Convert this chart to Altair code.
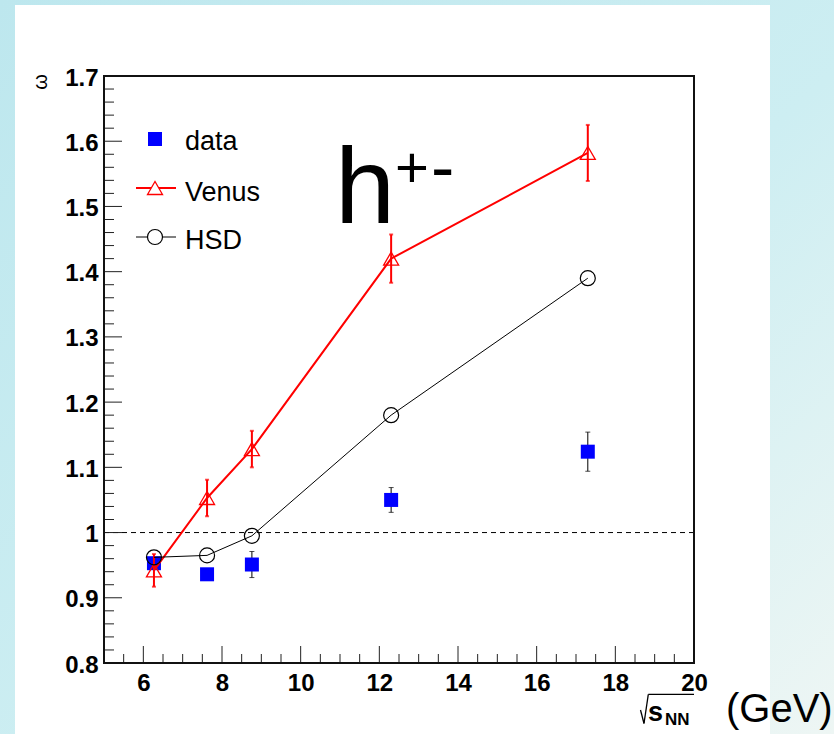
import altair as alt
import pandas as pd

# ---- data ----
sqrt_s = [6.27, 7.62, 8.76, 12.3, 17.3]
data_omega = [0.953, 0.936, 0.951, 1.050, 1.124]
data_err = [0.0, 0.0, 0.020, 0.019, 0.030]
venus_omega = [0.942, 1.053, 1.128, 1.420, 1.582]
venus_err = [0.025, 0.028, 0.028, 0.037, 0.043]
hsd_omega = [0.962, 0.965, 0.995, 1.180, 1.390]

x_major = [6, 8, 10, 12, 14, 16, 18, 20]
y_major = [0.8, 0.9, 1.0, 1.1, 1.2, 1.3, 1.4, 1.5, 1.6, 1.7]
x_minor = [v for v in [5 + 0.5 * i for i in range(1, 30)] if v not in x_major]
y_minor = [round(0.8 + 0.02 * i, 2) for i in range(1, 45) if i % 5 != 0]

FONT = "Liberation Sans"
W, H = 590, 587
RED = "#ff0000"
BLUE = "#0000ff"

xs = alt.Scale(domain=[5, 20], nice=False, zero=False)
ys = alt.Scale(domain=[0.8, 1.7], nice=False, zero=False)
xaxis = alt.Axis(values=x_major, ticks=False, domain=False, grid=False, title=None,
                 labelFont=FONT, labelFontSize=24, labelFontWeight="bold", labelColor="black",
                 labelPadding=8, labelFlush=False, labelOverlap=False, format="d", zindex=2)
yaxis = alt.Axis(values=y_major, ticks=False, domain=False, grid=False, title=None,
                 labelFont=FONT, labelFontSize=24, labelFontWeight="bold", labelColor="black",
                 labelPadding=6, labelFlush=False, labelOverlap=False, labelOffset=2, zindex=2,
                 labelExpr="datum.value == 1 ? '1' : format(datum.value, '.1f')")


def X(f):
    return alt.X(f, scale=xs, axis=xaxis)


def Y(f):
    return alt.Y(f, scale=ys, axis=yaxis)


one = pd.DataFrame({"k": [0]})

df_data = pd.DataFrame({"x": sqrt_s, "y": data_omega,
                        "lo": [a - b for a, b in zip(data_omega, data_err)],
                        "hi": [a + b for a, b in zip(data_omega, data_err)]})
df_venus = pd.DataFrame({"x": sqrt_s, "y": venus_omega,
                         "lo": [a - b for a, b in zip(venus_omega, venus_err)],
                         "hi": [a + b for a, b in zip(venus_omega, venus_err)]})
df_hsd = pd.DataFrame({"x": sqrt_s, "y": hsd_omega})
df_data_err = df_data[[e > 0 for e in data_err]]

# ---- background ----
grad = alt.LinearGradient(gradient="linear",
                          stops=[alt.GradientStop(color="#bde7ee", offset=0),
                                 alt.GradientStop(color="#cdeef2", offset=0.55),
                                 alt.GradientStop(color="#eef6f4", offset=1)],
                          x1=0, y1=0, x2=1, y2=1)
bg = alt.Chart(one).mark_rect(fill=grad).encode(
    x=alt.value(-104), x2=alt.value(730), y=alt.value(-76), y2=alt.value(658))
panel = alt.Chart(one).mark_rect(fill="white").encode(
    x=alt.value(-89), x2=alt.value(666), y=alt.value(-71), y2=alt.value(658))

# ---- reference line ----
ref = alt.Chart(pd.DataFrame({"y": [1.0]})).mark_rule(
    color="black", strokeWidth=1, strokeDash=[5, 4]).encode(
    y=Y("y:Q"), x=alt.value(0), x2=alt.value(W))

# ---- data ----
data_bar = alt.Chart(df_data_err).mark_rule(color="black", strokeWidth=1).encode(
    x=X("x:Q"), y=Y("lo:Q"), y2="hi:Q")
data_cap_lo = alt.Chart(df_data_err).mark_tick(color="black", orient="horizontal",
                                               size=5, thickness=1).encode(x=X("x:Q"), y=Y("lo:Q"))
data_cap_hi = alt.Chart(df_data_err).mark_tick(color="black", orient="horizontal",
                                               size=5, thickness=1).encode(x=X("x:Q"), y=Y("hi:Q"))
data_pts = alt.Chart(df_data).mark_point(shape="square", filled=True, size=196,
                                         color=BLUE, opacity=1).encode(x=X("x:Q"), y=Y("y:Q"))

# ---- Venus ----
venus_line = alt.Chart(df_venus).mark_line(color=RED, strokeWidth=2).encode(
    x=X("x:Q"), y=Y("y:Q"))
venus_bar = alt.Chart(df_venus).mark_rule(color=RED, strokeWidth=2).encode(
    x=X("x:Q"), y=Y("lo:Q"), y2="hi:Q")
venus_cap_lo = alt.Chart(df_venus).mark_tick(color=RED, orient="horizontal",
                                             size=4, thickness=2).encode(x=X("x:Q"), y=Y("lo:Q"))
venus_cap_hi = alt.Chart(df_venus).mark_tick(color=RED, orient="horizontal",
                                             size=4, thickness=2).encode(x=X("x:Q"), y=Y("hi:Q"))
venus_pts = alt.Chart(df_venus).mark_point(shape="triangle-up", filled=False, size=225,
                                           color=RED, strokeWidth=1.3, opacity=1).encode(
    x=X("x:Q"), y=Y("y:Q"))

# ---- HSD ----
hsd_line = alt.Chart(df_hsd).mark_line(color="black", strokeWidth=1).encode(
    x=X("x:Q"), y=Y("y:Q"))
hsd_pts = alt.Chart(df_hsd).mark_point(shape="circle", filled=False, size=225,
                                       color="black", strokeWidth=1.2, opacity=1).encode(
    x=X("x:Q"), y=Y("y:Q"))

# ---- ticks (inward, ROOT style) ----
ytick_major = alt.Chart(pd.DataFrame({"t": y_major})).mark_rule(color="#222", strokeWidth=1).encode(
    y=Y("t:Q"), x=alt.value(0), x2=alt.value(18))
ytick_minor = alt.Chart(pd.DataFrame({"t": y_minor})).mark_rule(color="#222", strokeWidth=1).encode(
    y=Y("t:Q"), x=alt.value(0), x2=alt.value(10))
xtick_major = alt.Chart(pd.DataFrame({"t": x_major})).mark_rule(color="#222", strokeWidth=1).encode(
    x=X("t:Q"), y=alt.value(H), y2=alt.value(H - 17))
xtick_minor = alt.Chart(pd.DataFrame({"t": x_minor})).mark_rule(color="#222", strokeWidth=1).encode(
    x=X("t:Q"), y=alt.value(H), y2=alt.value(H - 9))

frame = alt.Chart(one).mark_rect(fill=None, stroke="#111", strokeWidth=2).encode(
    x=alt.value(0), x2=alt.value(W), y=alt.value(0), y2=alt.value(H))


def txt(s, x, y, size, weight="normal", align="left", angle=0, baseline="alphabetic"):
    return alt.Chart(one).mark_text(text=s, font=FONT, fontSize=size, fontWeight=weight,
                                    align=align, baseline=baseline, angle=angle,
                                    color="black").encode(x=alt.value(x), y=alt.value(y))


# ---- legend ----
leg_sq = alt.Chart(one).mark_point(shape="square", filled=True, size=196, color=BLUE,
                                   opacity=1).encode(x=alt.value(51), y=alt.value(63))
leg_vl = alt.Chart(one).mark_rule(color=RED, strokeWidth=2).encode(
    x=alt.value(32), x2=alt.value(72), y=alt.value(112))
leg_vt = alt.Chart(one).mark_point(shape="triangle-up", filled=True, fill="white", size=225,
                                   stroke=RED, strokeWidth=1.3, opacity=1).encode(
    x=alt.value(51), y=alt.value(112))
leg_hl = alt.Chart(one).mark_rule(color="black", strokeWidth=1).encode(
    x=alt.value(32), x2=alt.value(72), y=alt.value(161))
leg_hc = alt.Chart(one).mark_point(shape="circle", filled=True, fill="white", size=225,
                                   stroke="black", strokeWidth=1.2, opacity=1).encode(
    x=alt.value(51), y=alt.value(161))
leg_t1 = txt("data", 81, 74, 27)
leg_t2 = txt("Venus", 81, 125, 27)
leg_t3 = txt("HSD", 81, 173, 27)

# ---- labels ----
h_big = txt("h", 231, 147, 108)
h_plus = txt("+", 291, 111, 58)
h_minus = txt("-", 327, 115, 70)
omega = txt("ω", -63, 6, 20, align="center", angle=270, baseline="middle")

rad1 = alt.Chart(one).mark_rule(color="black", strokeWidth=1.3).encode(
    x=alt.value(536.5), y=alt.value(634), x2=alt.value(540), y2=alt.value(647.5))
rad2 = alt.Chart(one).mark_rule(color="black", strokeWidth=1.3).encode(
    x=alt.value(540), y=alt.value(647.5), x2=alt.value(544.3), y2=alt.value(618.3))
rad3 = alt.Chart(one).mark_rule(color="black", strokeWidth=1.3).encode(
    x=alt.value(544.3), y=alt.value(618.3), x2=alt.value(590), y2=alt.value(618.3))
t_s = txt("s", 544, 645, 27, weight="bold")
t_nn = txt("NN", 561, 649, 17, weight="bold")
t_gev = txt("(GeV)", 622, 646, 40)

chart = alt.layer(
    bg, panel, ref,
    data_bar, data_cap_lo, data_cap_hi, data_pts,
    venus_line, venus_bar, venus_cap_lo, venus_cap_hi, venus_pts,
    hsd_line, hsd_pts,
    ytick_major, ytick_minor, xtick_major, xtick_minor, frame,
    leg_sq, leg_vl, leg_vt, leg_hl, leg_hc, leg_t1, leg_t2, leg_t3,
    h_big, h_plus, h_minus, omega, rad1, rad2, rad3, t_s, t_nn, t_gev,
).properties(
    width=W, height=H,
    autosize=alt.AutoSizeParams(type="none"),
    padding={"left": 104, "top": 76, "right": 140, "bottom": 71},
    background="#c8ecf1",
).configure_view(stroke=None)

chart.save("out.html", embed_options={"renderer": "svg", "actions": False})
